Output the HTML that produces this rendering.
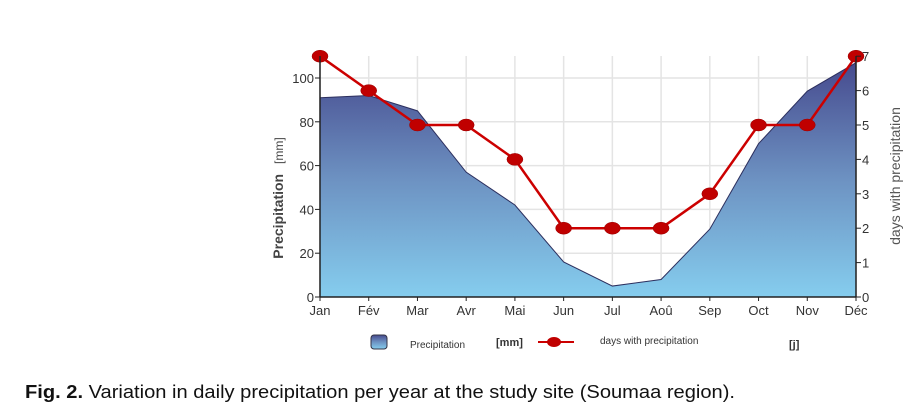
<!DOCTYPE html>
<html><head><meta charset="utf-8"><style>
html,body{margin:0;padding:0;background:#fff;}
svg{display:block;font-family:"Liberation Sans",sans-serif;}
</style></head><body>
<svg id="c" width="914" height="416" viewBox="0 0 914 416">
<defs>
<linearGradient id="g" x1="0" y1="0" x2="0" y2="1">
<stop offset="0" stop-color="#464a8e"/><stop offset="0.5" stop-color="#6d92c2"/><stop offset="1" stop-color="#85cdee"/>
</linearGradient>
</defs>
<g id="grid"></g>
<g id="area"></g>
<g id="line"></g>
<g id="axes"></g>
<text x="283" y="198" transform="rotate(-90 283 198)" text-anchor="middle" font-size="14" font-weight="bold" fill="#444">Precipitation <tspan font-weight="normal" font-size="12" dx="6">[mm]</tspan></text>
<text x="900" y="176" transform="rotate(-90 900 176)" text-anchor="middle" font-size="14" fill="#555">days with precipitation</text>
<g>
<rect x="371" y="335" width="16" height="14" rx="3" fill="url(#g)" stroke="#334"/>
<text x="410" y="348" font-size="10" fill="#333">Precipitation</text>
<text x="496" y="346" font-size="11" font-weight="bold" fill="#333">[mm]</text>
<line x1="538" y1="342" x2="574" y2="342" stroke="#cc0000" stroke-width="2"/>
<ellipse cx="554" cy="342" rx="7" ry="5" fill="#c00000"/>
<text x="600" y="344" font-size="10" fill="#333">days with precipitation</text>
<text x="789" y="348" font-size="11" font-weight="bold" fill="#333">[j]</text>
</g>
<text x="25" y="398" font-size="18.5" fill="#111" textLength="710" lengthAdjust="spacingAndGlyphs"><tspan font-weight="bold">Fig. 2.</tspan> Variation in daily precipitation per year at the study site (Soumaa region).</text>
</svg>
<script>
const months=["Jan","Fév","Mar","Avr","Mai","Jun","Jul","Aoû","Sep","Oct","Nov","Déc"];
const precip=[91,92,85,57,42,16,5,8,31,70,94,107];
const days=[7,6,5,5,4,2,2,2,3,5,5,7];
const leftTicks=[0,20,40,60,80,100];
const rightTicks=[0,1,2,3,4,5,6,7];
const NS="http://www.w3.org/2000/svg";
const X0=320,X1=856,Y0=297;
const x=i=>X0+i*(X1-X0)/(months.length-1);
const yL=v=>Y0-v*2.19;
const yR=v=>Y0-v*34.4;
function mk(p,t,a){const e=document.createElementNS(NS,t);for(const k in a)e.setAttribute(k,a[k]);p.appendChild(e);return e;}
const grid=document.getElementById('grid'),area=document.getElementById('area'),line=document.getElementById('line'),axes=document.getElementById('axes');
leftTicks.forEach(v=>{if(v===0)return;const l=mk(grid,'line',{x1:X0,x2:X1,y1:yL(v),y2:yL(v),stroke:'#e4e4e4','stroke-width':1.5});

});
months.forEach((m,i)=>{const l=mk(grid,'line',{x1:x(i),x2:x(i),y1:56,y2:Y0,stroke:'#e4e4e4','stroke-width':1.5});

});
let d='M'+X0+','+Y0;precip.forEach((v,i)=>d+=' L'+x(i)+','+yL(v));d+=' L'+X1+','+Y0+' Z';
const a=mk(area,'path',{d:d,fill:'url(#g)'});


let d2='';precip.forEach((v,i)=>d2+=(i?' L':'M')+x(i)+','+yL(v));
const ao=mk(area,'path',{d:d2,fill:'none',stroke:'#2c2f5e','stroke-width':1});


const pts=days.map((v,i)=>x(i)+','+yR(v)).join(' ');
const pl=mk(line,'polyline',{points:pts,fill:'none',stroke:'#cc0000','stroke-width':2.5});


days.forEach((v,i)=>{const c=mk(line,'ellipse',{cx:x(i),cy:yR(v),rx:8,ry:6,fill:'#c00000',stroke:'#990000','stroke-width':0.5});

});
mk(axes,'line',{x1:X0,x2:X0,y1:56,y2:Y0,stroke:'#222','stroke-width':1.5});
mk(axes,'line',{x1:X1,x2:X1,y1:56,y2:Y0,stroke:'#222','stroke-width':1.5});
mk(axes,'line',{x1:X0,x2:X1,y1:Y0,y2:Y0,stroke:'#222','stroke-width':1.5});
leftTicks.forEach(v=>{mk(axes,'line',{x1:X0-5,x2:X0,y1:yL(v),y2:yL(v),stroke:'#222'});
const t=mk(axes,'text',{x:X0-6,y:yL(v)+5,'text-anchor':'end','font-size':13,fill:'#333'});t.textContent=v;

});
rightTicks.forEach(v=>{mk(axes,'line',{x1:X1,x2:X1+5,y1:yR(v),y2:yR(v),stroke:'#222'});
const t=mk(axes,'text',{x:X1+6,y:yR(v)+5,'font-size':13,fill:'#333'});t.textContent=v;

});
months.forEach((m,i)=>{mk(axes,'line',{x1:x(i),x2:x(i),y1:Y0,y2:Y0+4,stroke:'#222'});
const t=mk(axes,'text',{x:x(i),y:315,'text-anchor':'middle','font-size':13,fill:'#333'});t.textContent=m;

});
</script>
</body></html>
